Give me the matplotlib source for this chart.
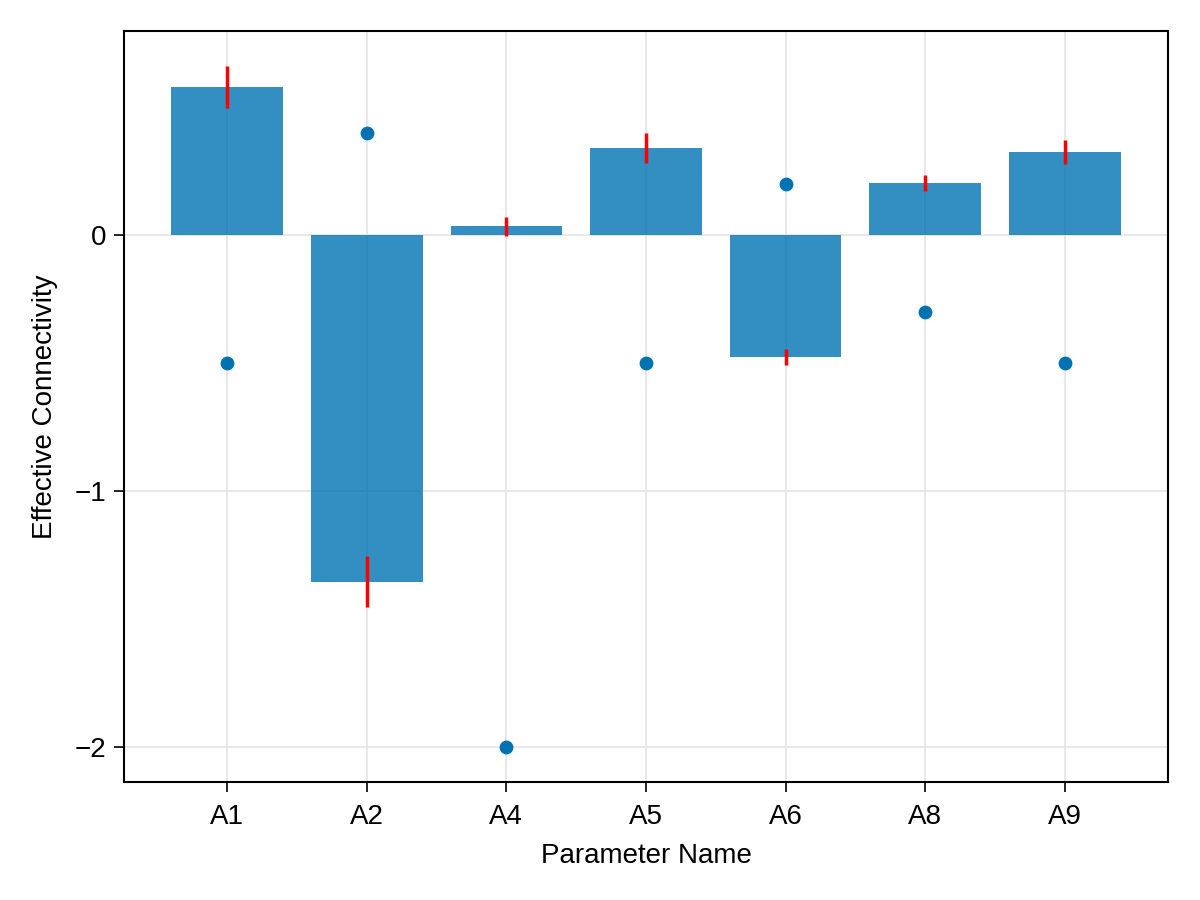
import matplotlib
matplotlib.use("Agg")
import matplotlib.pyplot as plt
import numpy as np

plt.rcParams['font.family'] = ['Liberation Sans', 'DejaVu Sans']

names = ['A1', 'A2', 'A4', 'A5', 'A6', 'A8', 'A9']
means = [0.578, -1.355, 0.035, 0.340, -0.477, 0.203, 0.324]
errs = [0.082, 0.100, 0.037, 0.057, 0.030, 0.030, 0.047]
true_vals = [-0.5, 0.4, -2.0, -0.5, 0.2, -0.3, -0.5]

x = np.arange(len(names))

fig = plt.figure(figsize=(12, 9), dpi=100)
ax = fig.add_axes([124/1200, 1 - 782/900, (1168-124)/1200, (782-31)/900])

ax.bar(x, means, width=0.8, color='#0072B2', alpha=0.8, zorder=2)
ax.errorbar(x, means, yerr=errs, fmt='none', ecolor='red', elinewidth=2.5, capsize=0, zorder=3)
ax.scatter(x, true_vals, s=80, color='#0072B2', zorder=4)

ax.set_xlim(-0.74, 6.74)
ax.set_ylim(-2.137, 0.797)
ax.set_xticks(x)
ax.set_xticklabels(names)
ax.set_yticks([-2, -1, 0])
ax.set_yticklabels(['\u22122', '\u22121', '0'])
ax.grid(True, color='#e4e4e4', linewidth=1.2, zorder=0)
ax.set_axisbelow(True)
ax.tick_params(labelsize=20, length=7, width=1.2, direction='out')
ax.tick_params(axis='x', pad=9)
ax.tick_params(axis='y', pad=6)
for s in ax.spines.values():
    s.set_linewidth(1.5)
ax.set_xlabel('Parameter Name', fontsize=20, labelpad=9)
ax.set_ylabel('Effective Connectivity', fontsize=20, labelpad=12)

fig.savefig('out.png', dpi=100)
